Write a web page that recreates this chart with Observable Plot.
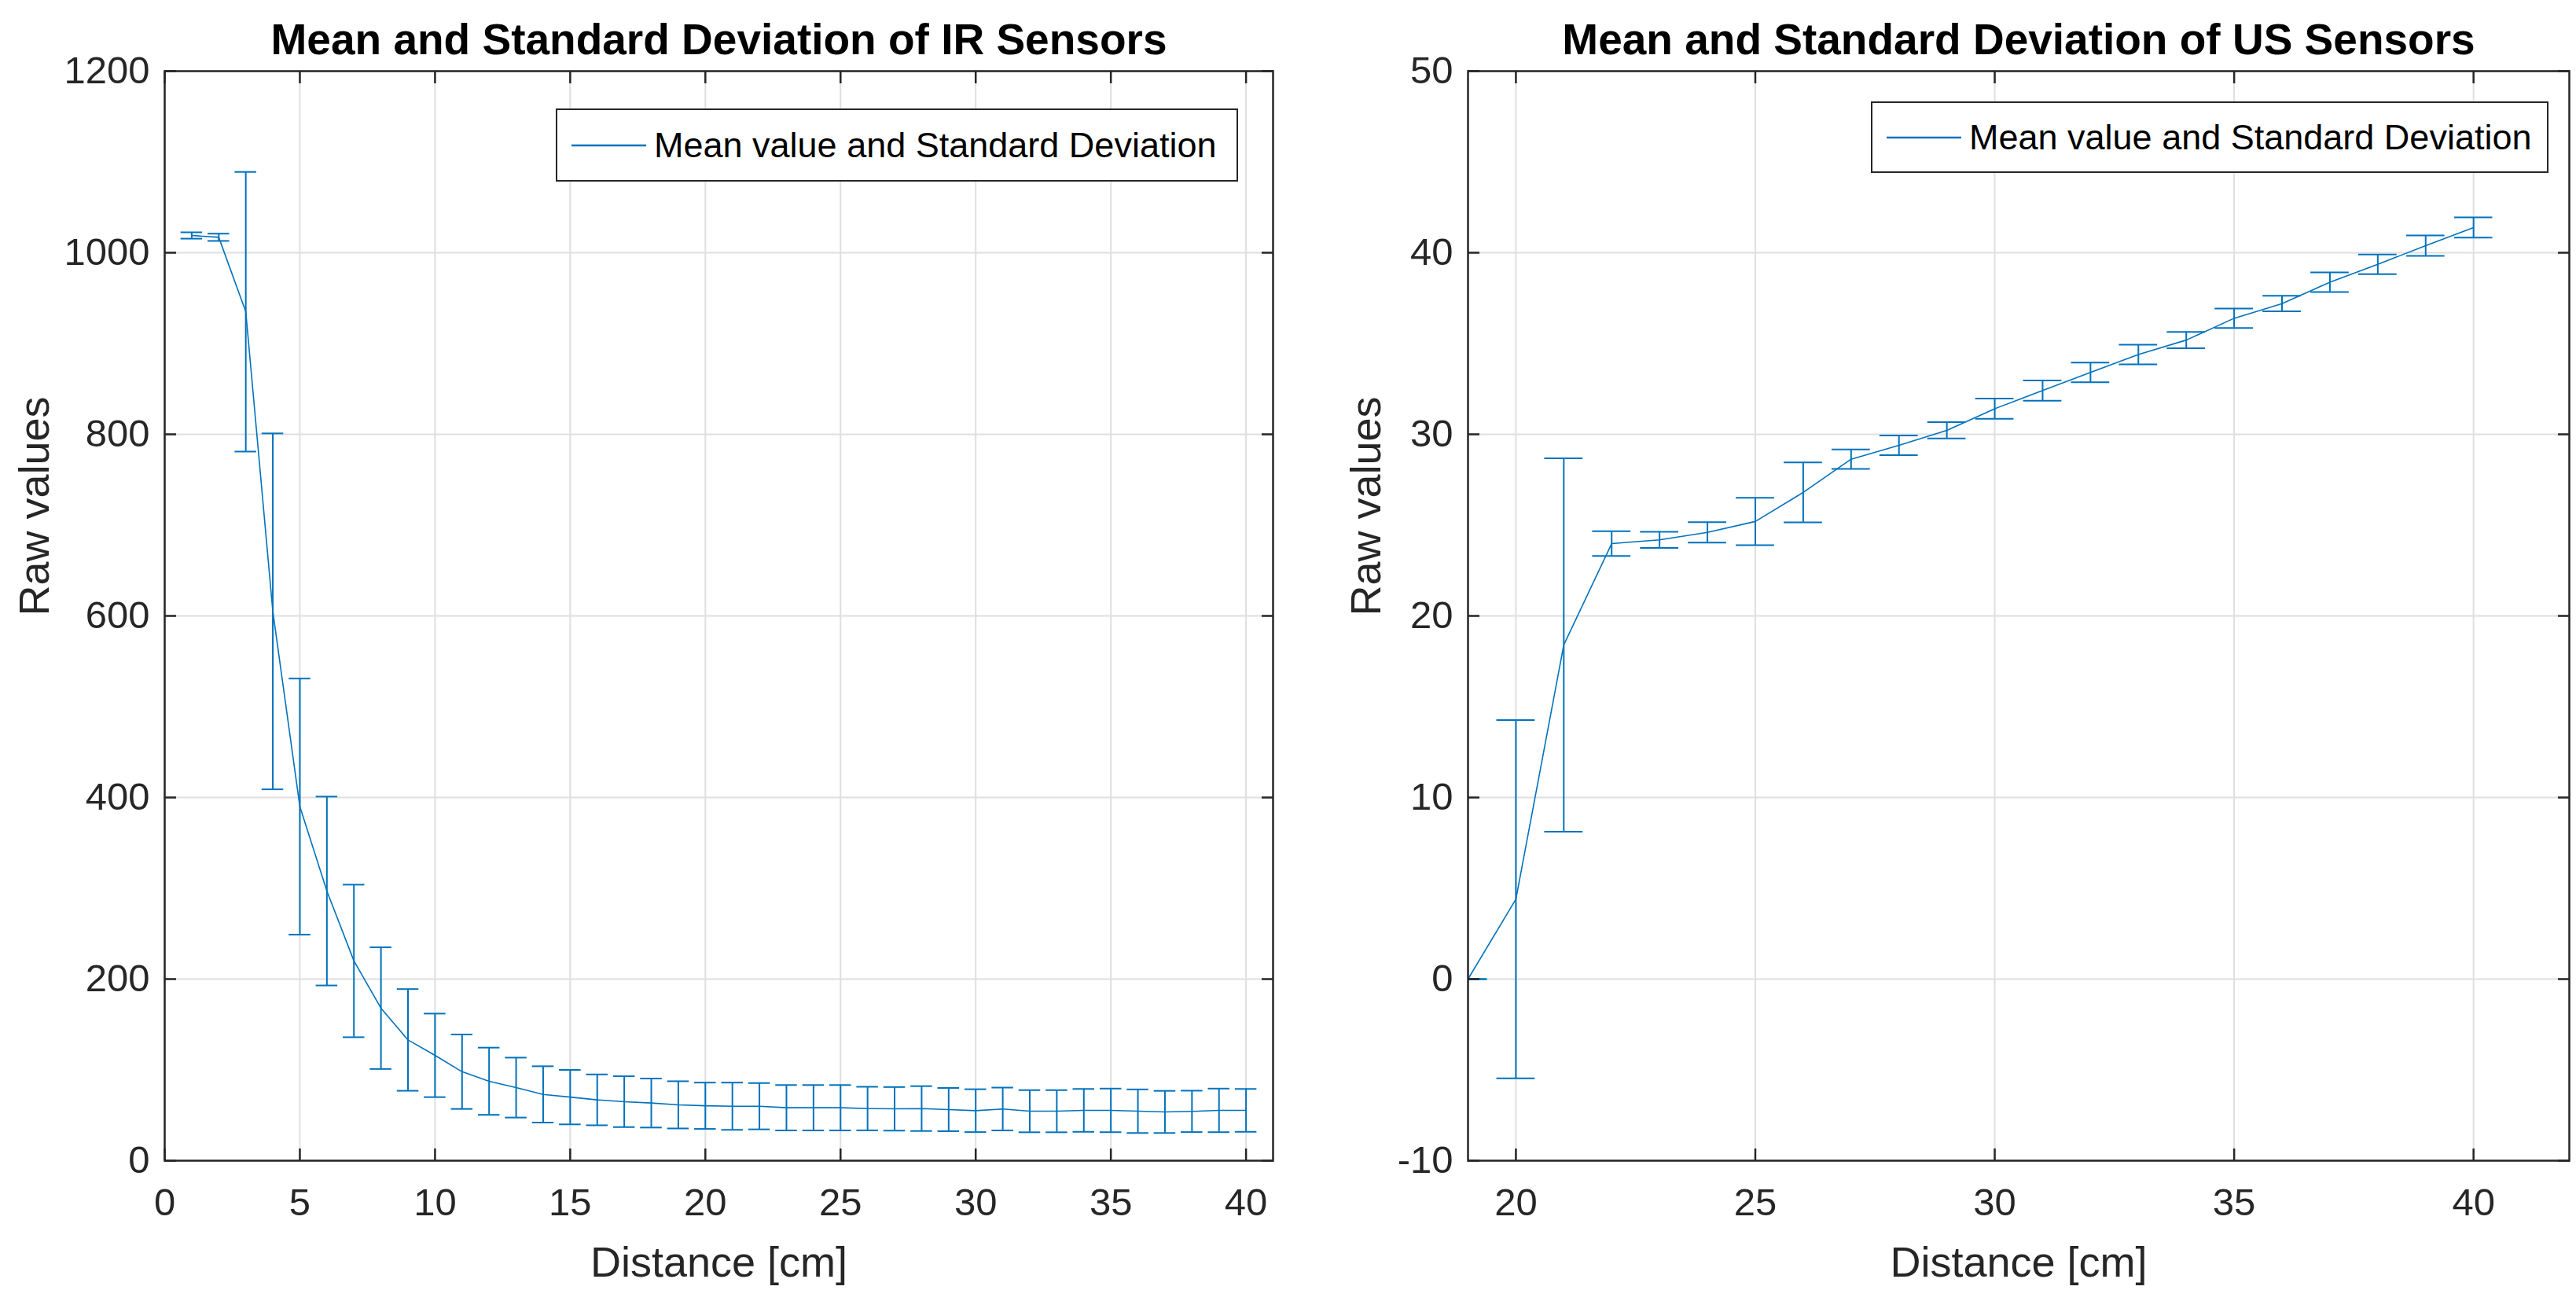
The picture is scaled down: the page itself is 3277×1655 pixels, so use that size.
<!DOCTYPE html>
<html>
<head>
<meta charset="utf-8">
<script src="https://cdn.jsdelivr.net/npm/d3@7"></script>
<script src="https://cdn.jsdelivr.net/npm/@observablehq/plot@0.6"></script>
<style>
  html, body { margin: 0; padding: 0; background: #fff; }
  #root { position: relative; width: 3277px; height: 1655px; overflow: hidden;
          font-family: "Liberation Sans", Arial, Helvetica, sans-serif; }
  .panel { position: absolute; top: 0; }
  .legend { position: absolute; box-sizing: border-box; border: 2.5px solid #262626; background: #fff;
            display: flex; align-items: center; font-size: 45px; color: #000; white-space: nowrap; }
  .legend svg { display: block; margin: 0 10px 0 18px; }
</style>
</head>
<body>
<div id="root"></div>
<script>
// ---------- data ----------
const irDistance = [1,2,3,4,5,6,7,8,9,10,11,12,13,14,15,16,17,18,19,20,21,22,23,24,25,26,27,28,29,30,31,32,33,34,35,36,37,38,39,40];
const irMean = [1019,1017,935,605,390,297,220,168,133,116,98,87.5,80.5,73,70,67,65,63.5,61.5,60.5,60,60,58.3,58.3,58.3,57.4,57.1,57.4,56.3,55.1,56.9,54.5,54.5,55.4,55.4,54.5,53.7,54.3,55.4,55.4];
const irStd = [3.5,4,154,196,141,104,84,67,56,46,41,37,33,31,30,28,28,27,26,25.5,26,25.5,25,25,25,24,24,24.7,23.8,23.6,23.6,23.2,23.2,23.6,24,24,23.2,22.8,24,23.6];

const usDistance = [19,20,21,22,23,24,25,26,27,28,29,30,31,32,33,34,35,36,37,38,39,40];
const usMean = [0,4.4,18.4,23.98,24.19,24.6,25.2,26.8,28.63,29.39,30.22,31.41,32.41,33.41,34.39,35.19,36.39,37.2,38.38,39.36,40.39,41.39];
const usStd = [0,9.86,10.28,0.68,0.44,0.56,1.3,1.65,0.54,0.54,0.45,0.56,0.56,0.54,0.54,0.45,0.54,0.43,0.54,0.54,0.56,0.56];

const irXTicks = [0,5,10,15,20,25,30,35,40];
const irYTicks = [0,200,400,600,800,1000,1200];
const usXTicks = [20,25,30,35,40];
const usYTicks = [-10,0,10,20,30,40,50];

const titles = ["Mean and Standard Deviation of IR Sensors", "Mean and Standard Deviation of US Sensors"];
const xLabel = "Distance [cm]";
const yLabel = "Raw values";
const legendLabel = "Mean value and Standard Deviation";

// ---------- drawing ----------
const blue = "#0072BD";
const gridColor = "#dfdfdf";
const root = document.getElementById("root");

function makePanel(cfg) {
  const rows = cfg.distance.map((d, i) => ({x: d, mean: cfg.mean[i], lo: cfg.mean[i] - cfg.std[i], hi: cfg.mean[i] + cfg.std[i]}));
  const fmt = d => String(d);
  const chart = Plot.plot({
    width: cfg.width,
    height: 1655,
    marginLeft: cfg.marginLeft,
    marginRight: cfg.marginRight,
    marginTop: 90,
    marginBottom: 179,
    style: {fontFamily: '"Liberation Sans", Arial, Helvetica, sans-serif', color: "#262626", background: "#fff", overflow: "visible"},
    x: {domain: cfg.xDomain, label: null},
    y: {domain: cfg.yDomain, label: null},
    marks: [
      Plot.gridX(cfg.xTicks, {stroke: gridColor, strokeOpacity: 1, strokeWidth: 2}),
      Plot.gridY(cfg.yTicks, {stroke: gridColor, strokeOpacity: 1, strokeWidth: 2}),
      Plot.ruleX(rows, {x: "x", y1: "lo", y2: "hi", stroke: blue, strokeWidth: 2, clip: true}),
      Plot.ruleY(rows, {y: "hi", x1: d => d.x - cfg.capHalf, x2: d => d.x + cfg.capHalf, stroke: blue, strokeWidth: 2, clip: true}),
      Plot.ruleY(rows, {y: "lo", x1: d => d.x - cfg.capHalf, x2: d => d.x + cfg.capHalf, stroke: blue, strokeWidth: 2, clip: true}),
      Plot.line(rows, {x: "x", y: "mean", stroke: blue, strokeWidth: 1.6, clip: true}),
      Plot.frame({stroke: "#262626", strokeWidth: 2.5}),
      Plot.axisX(cfg.xTicks, {anchor: "bottom", tickSize: -15, tickPadding: 50, strokeWidth: 2.5, fontSize: 49, tickFormat: fmt, label: null}),
      Plot.axisX(cfg.xTicks, {anchor: "top", tickSize: -15, strokeWidth: 2.5, tickFormat: () => "", label: null}),
      Plot.axisY(cfg.yTicks, {anchor: "left", tickSize: -15, tickPadding: 34, strokeWidth: 2.5, fontSize: 49, tickFormat: fmt, label: null}),
      Plot.axisY(cfg.yTicks, {anchor: "right", tickSize: -15, strokeWidth: 2.5, tickFormat: () => "", label: null}),
      Plot.text([cfg.title], {frameAnchor: "top", dy: -22, lineAnchor: "bottom", fontSize: 55, fontWeight: "bold", fill: "#000"}),
      Plot.text([xLabel], {frameAnchor: "bottom", dy: 147, lineAnchor: "bottom", fontSize: 54, fill: "#262626"}),
      Plot.text([yLabel], {frameAnchor: "left", dx: cfg.yLabelDx, rotate: -90, lineAnchor: "bottom", fontSize: 54, fill: "#262626"})
    ]
  });
  const wrap = document.createElement("div");
  wrap.className = "panel";
  wrap.style.left = cfg.left + "px";
  wrap.style.width = cfg.width + "px";
  wrap.style.height = "1655px";
  wrap.appendChild(chart);

  const lg = document.createElement("div");
  lg.className = "legend";
  lg.style.left = cfg.legend.left + "px";
  lg.style.top = cfg.legend.top + "px";
  lg.style.width = cfg.legend.width + "px";
  lg.style.height = cfg.legend.height + "px";
  lg.innerHTML = `<svg width="95" height="10"><line x1="0" y1="5" x2="95" y2="5" stroke="${blue}" stroke-width="2.5"/></svg><span>${legendLabel}</span>`;
  wrap.appendChild(lg);
  root.appendChild(wrap);
}

makePanel({
  distance: irDistance, mean: irMean, std: irStd,
  xDomain: [0, 41], yDomain: [0, 1200], xTicks: irXTicks, yTicks: irYTicks,
  capHalf: 0.4, title: titles[0],
  left: 0, width: 1648, marginLeft: 209, marginRight: 29, yLabelDx: -148,
  legend: {left: 707, top: 138, width: 868, height: 93}
});

makePanel({
  distance: usDistance, mean: usMean, std: usStd,
  xDomain: [19, 42], yDomain: [-10, 50], xTicks: usXTicks, yTicks: usYTicks,
  capHalf: 0.4, title: titles[1],
  left: 1648, width: 1629, marginLeft: 219, marginRight: 9, yLabelDx: -112,
  legend: {left: 2380 - 1648, top: 129, width: 862, height: 91}
});
</script>
</body>
</html>
